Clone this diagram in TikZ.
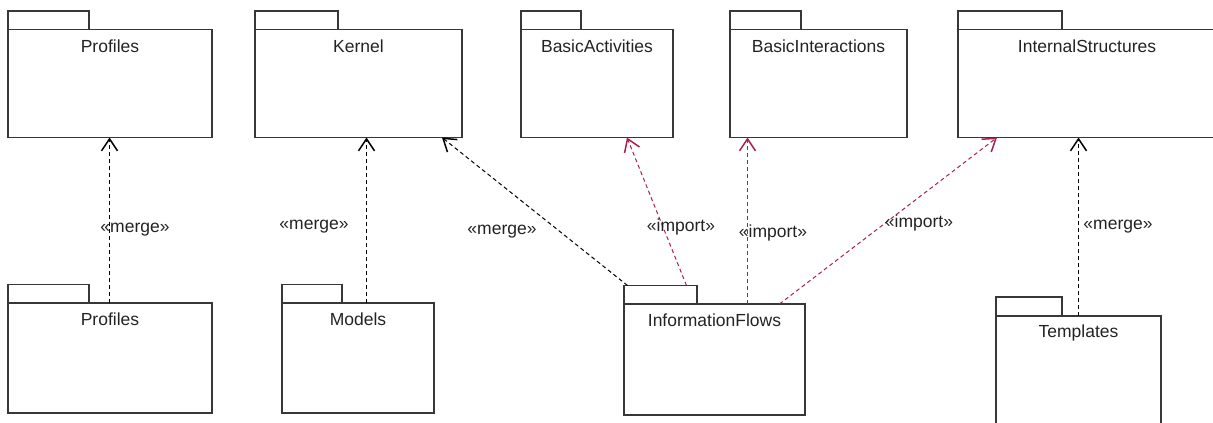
\documentclass[tikz,border=0pt]{standalone}
\usepackage{fontspec}
\setmainfont{Liberation Sans}
\usetikzlibrary{arrows.meta,calc}
\definecolor{linegray}{RGB}{55,55,55}
\definecolor{textgray}{RGB}{35,35,35}
\definecolor{importred}{RGB}{170,30,80}
\begin{document}
\begin{tikzpicture}[x=1pt,y=-1pt,
 pkgbody/.style={draw=linegray, line width=1.8pt, rectangle, inner sep=0pt, outer sep=0pt, anchor=north west},
 pkgtab/.style={draw=linegray, line width=1.8pt, rectangle, inner sep=0pt, outer sep=0pt, anchor=south west, minimum height=18.5pt},
 pkgname/.style={font=\fontsize{17.5}{20}\selectfont, text=textgray, inner sep=0pt, anchor=center},
 dep/.style={line width=1pt, dash pattern=on 4pt off 3pt, -{Straight Barb[length=12pt,width=16pt,line width=1.5pt]}},
 mergedep/.style={dep, draw=black},
 importdep/.style={dep, draw=importred},
 deplabel/.style={font=\fontsize{17.5}{20}\selectfont, text=textgray, inner sep=0pt, anchor=center}
]
\useasboundingbox (0,0) rectangle (1213,423);

% top row
\node[pkgbody, minimum width=204pt, minimum height=108pt] (proftop) at (8,29.5) {};
\node[pkgtab, minimum width=81pt] (proftoptab) at (proftop.north west) {};
\node[pkgname] (proftoplabel) at ($(proftop.north)+(0,16.5)$) {Profiles};

\node[pkgbody, minimum width=207pt, minimum height=108pt] (kernel) at (255,29.5) {};
\node[pkgtab, minimum width=83pt] (kerneltab) at (kernel.north west) {};
\node[pkgname] (kernellabel) at ($(kernel.north)+(0,16.5)$) {Kernel};

\node[pkgbody, minimum width=152pt, minimum height=108pt] (ba) at (521,29.5) {};
\node[pkgtab, minimum width=60pt] (batab) at (ba.north west) {};
\node[pkgname] (balabel) at ($(ba.north)+(0,16.5)$) {BasicActivities};

\node[pkgbody, minimum width=177pt, minimum height=108pt] (bi) at (730,29.5) {};
\node[pkgtab, minimum width=71pt] (bitab) at (bi.north west) {};
\node[pkgname] (bilabel) at ($(bi.north)+(0,16.5)$) {BasicInteractions};

\node[pkgbody, minimum width=258pt, minimum height=108pt] (is) at (958,29.5) {};
\node[pkgtab, minimum width=104pt] (istab) at (is.north west) {};
\node[pkgname] (islabel) at ($(is.north)+(0,16.5)$) {InternalStructures};

% bottom row
\node[pkgbody, minimum width=204pt, minimum height=110pt] (profbot) at (8,303) {};
\node[pkgtab, minimum width=81pt] (profbottab) at (profbot.north west) {};
\node[pkgname] (profbotlabel) at ($(profbot.north)+(0,16.5)$) {Profiles};

\node[pkgbody, minimum width=152pt, minimum height=110pt] (models) at (282,303) {};
\node[pkgtab, minimum width=60pt] (modelstab) at (models.north west) {};
\node[pkgname] (modelslabel) at ($(models.north)+(0,16.5)$) {Models};

\node[pkgbody, minimum width=181pt, minimum height=111pt] (ifl) at (624,304) {};
\node[pkgtab, minimum width=73pt] (ifltab) at (ifl.north west) {};
\node[pkgname] (ifllabel) at ($(ifl.north)+(0,16.5)$) {InformationFlows};

\node[pkgbody, minimum width=165pt, minimum height=112pt] (tmpl) at (996,316) {};
\node[pkgtab, minimum width=66pt, minimum height=19pt] (tmpltab) at (tmpl.north west) {};
\node[pkgname] (tmpllabel) at ($(tmpl.north)+(0,16.5)$) {Templates};

% connectors
\draw[mergedep] ($(profbot.north west)+(101.5,0)$) -- ($(proftop.south west)+(101.5,0)$);
\draw[mergedep] ($(models.north west)+(84.5,0)$) -- ($(kernel.south west)+(111.5,0)$);
\draw[mergedep] ($(ifltab.north west)+(3.5,0)$) -- ($(kernel.south west)+(187,0)$);
\draw[importdep] ($(ifltab.north west)+(62.5,0)$) -- ($(ba.south west)+(106,0)$);
\draw[importdep] ($(ifl.north west)+(123.5,0)$) -- ($(bi.south west)+(17.5,0)$);
\draw[importdep] ($(ifl.north west)+(155.5,0)$) -- ($(is.south west)+(39,0)$);
\draw[mergedep] ($(tmpl.north west)+(82.5,0)$) -- ($(is.south west)+(120.5,0)$);

% labels
\node[deplabel] (l1) at (135,230) {«merge»};
\node[deplabel] (l2) at (314,227) {«merge»};
\node[deplabel] (l3) at (502,232) {«merge»};
\node[deplabel] (l4) at (681,227) {«import»};
\node[deplabel] (l5) at (773,233) {«import»};
\node[deplabel] (l6) at (919,223) {«import»};
\node[deplabel] (l7) at (1118,227) {«merge»};
\end{tikzpicture}
\end{document}
